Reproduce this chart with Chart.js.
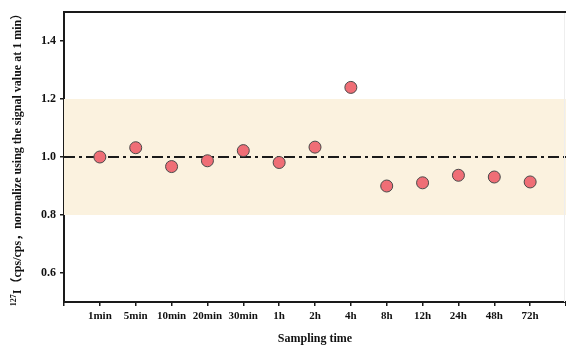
<!DOCTYPE html>
<html><head><meta charset="utf-8">
<script src="https://cdn.jsdelivr.net/npm/chart.js@4/dist/chart.umd.min.js"></script>
<style>html,body{margin:0;padding:0;background:#fff}#wrap{width:566px;height:346px}</style>
</head><body><div id="wrap"><canvas id="c" width="566" height="346"></canvas></div>
<script>
const categories = ['1min','5min','10min','20min','30min','1h','2h','4h','8h','12h','24h','48h','72h'];
const values = [1.000, 1.032, 0.967, 0.987, 1.022, 0.981, 1.034, 1.240, 0.900, 0.911, 0.937, 0.931, 0.914];
const yTicks = [0.6, 0.8, 1.0, 1.2, 1.4];
const reference = 1.0;
const bandUpper = 1.2;
const bandLower = 0.8;
const xTitle = 'Sampling time';
const yTitleSup = '127';
const yTitleMain = 'I（cps/cps，normalize using the signal value at 1 min）';

const FONT = "'Liberation Serif', 'Times New Roman', serif";
const xMin = -1, xMax = categories.length;

const framePlugin = {
  id: 'frame',
  afterDraw(chart) {
    const {ctx, chartArea: a} = chart;
    ctx.save();
    ctx.strokeStyle = '#1a1a1a'; ctx.lineWidth = 2;
    ctx.beginPath(); ctx.moveTo(a.left - 1, a.top); ctx.lineTo(a.right, a.top); ctx.stroke();
    ctx.strokeStyle = '#eeeeee'; ctx.lineWidth = 1;
    ctx.beginPath(); ctx.moveTo(a.right - 1.5, a.top + 1); ctx.lineTo(a.right - 1.5, a.bottom); ctx.stroke();
    // y title with superscript
    ctx.translate(18, (a.top + a.bottom) / 2);
    ctx.rotate(-Math.PI / 2);
    ctx.fillStyle = '#111';
    ctx.textBaseline = 'middle';
    const supFont = "bold 8px " + FONT;
    const mainFont = "bold 12px " + FONT + ", 'Noto Sans CJK SC'";
    ctx.font = supFont;
    const supW = ctx.measureText(yTitleSup).width;
    ctx.font = mainFont;
    const mainW = ctx.measureText(yTitleMain).width;
    const x0 = -(supW + mainW) / 2;
    ctx.textAlign = 'left';
    ctx.font = supFont;
    ctx.fillText(yTitleSup, x0, -4);
    ctx.font = mainFont;
    ctx.fillText(yTitleMain, x0 + supW, 0);
    ctx.restore();
  }
};

new Chart(document.getElementById('c'), {
  type: 'scatter',
  data: {
    datasets: [
      {
        type: 'line', label: 'upper', data: [{x: xMin, y: bandUpper}, {x: xMax, y: bandUpper}],
        borderWidth: 0, pointRadius: 0, fill: '+1', backgroundColor: '#FBF2DF', order: 3
      },
      {
        type: 'line', label: 'lower', data: [{x: xMin, y: bandLower}, {x: xMax, y: bandLower}],
        borderWidth: 0, pointRadius: 0, fill: false, order: 3
      },
      {
        type: 'line', label: 'ref', data: [{x: xMin, y: reference}, {x: xMax, y: reference}],
        borderColor: '#1a1a1a', borderWidth: 2, borderDash: [11, 4, 3, 4], pointRadius: 0, fill: false, order: 2
      },
      {
        label: 'values', data: values.map((v, i) => ({x: i, y: v})),
        backgroundColor: '#EF6E76', borderColor: '#4a4a4a', borderWidth: 1, pointRadius: 6, order: 1
      }
    ]
  },
  options: {
    responsive: false, animation: false,
    layout: {autoPadding: false, padding: {top: 12, right: 0, left: 0, bottom: 0}},
    plugins: {legend: {display: false}, tooltip: {enabled: false}},
    scales: {
      x: {
        type: 'linear', min: xMin, max: xMax,
        afterBuildTicks(s) { s.ticks = []; for (let i = xMin; i <= xMax; i++) s.ticks.push({value: i}); },
        afterFit(s) { s.height = 44; s.paddingLeft = 0; s.paddingRight = 0; },
        ticks: {
          callback: (v) => categories[v] !== undefined ? categories[v] : '',
          font: {family: FONT, size: 11, weight: 'bold'}, color: '#111', padding: 4, maxRotation: 0, autoSkip: false
        },
        grid: {display: true, drawOnChartArea: false, drawTicks: true, tickLength: 4, color: '#1a1a1a', lineWidth: 1.5},
        border: {display: true, color: '#1a1a1a', width: 2},
        title: {display: true, text: xTitle, font: {family: FONT, size: 12, weight: 'bold'}, color: '#111', padding: {top: 11, bottom: 0}}
      },
      y: {
        min: 0.5, max: 1.5,
        afterBuildTicks(s) { s.ticks = yTicks.map(v => ({value: v})); },
        afterFit(s) { s.width = 64; s.paddingTop = 0; s.paddingBottom = 0; },
        ticks: {
          callback: (v) => v.toFixed(1),
          font: {family: FONT, size: 12, weight: 'bold'}, color: '#111', padding: 4
        },
        grid: {display: true, drawOnChartArea: false, drawTicks: true, tickLength: 4, color: '#1a1a1a', lineWidth: 1.5},
        border: {display: true, color: '#1a1a1a', width: 2}
      }
    }
  },
  plugins: [framePlugin]
});
</script>
</body></html>
